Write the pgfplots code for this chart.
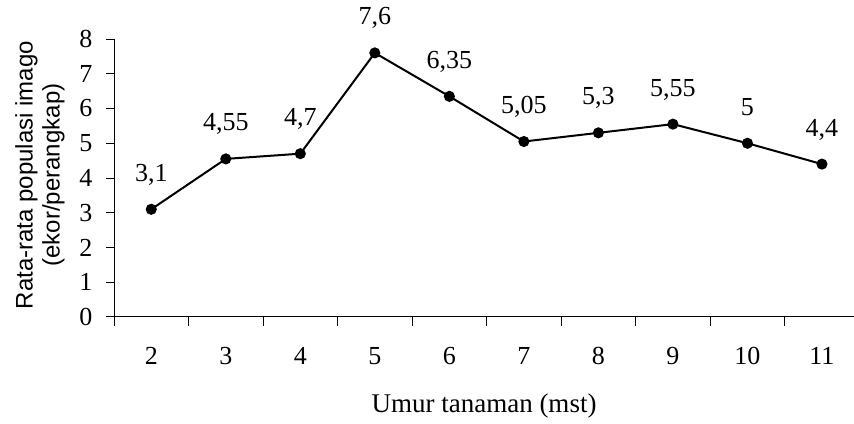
\documentclass[border=0pt]{standalone}
\usepackage{pgfplots}
\pgfplotsset{compat=1.18}
\usepackage{fontspec}
\setmainfont{Liberation Serif}
\newfontfamily\arialfont{Liberation Sans}

\begin{document}
\begin{tikzpicture}
\begin{axis}[
    at={(114pt,106pt)}, anchor=south west,
    scale only axis,
    width=740pt, height=278pt,
    xmin=-0.5, xmax=9.43,
    ymin=0, ymax=8,
    axis lines=left,
    axis line style={-, line width=1pt},
    tick align=outside,
    tick style={black, line width=1pt},
    xtick={0,...,9},
    xticklabels={2,3,4,5,6,7,8,9,10,11},
    major x tick style={draw=none},
    minor xtick={-0.5,0.5,...,8.5},
    minor tick length=9pt,
    ytick={0,...,8},
    major tick length=8pt,
    font=\fontsize{26}{30}\selectfont,
    ticklabel style={font=\fontsize{26}{30}\selectfont},
    xticklabel style={yshift=-19pt},
    yticklabel style={xshift=-10pt},
    /pgf/number format/assume math mode=true,
    xlabel={Umur tanaman (mst)},
    xlabel style={at={(axis description cs:0.5,-0.32)}, anchor=center, font=\fontsize{27}{30}\selectfont},
    nodes near coords,
    point meta=explicit symbolic,
    every node near coord/.append style={anchor=base, yshift=28pt, font=\fontsize{26}{30}\selectfont},
    clip=false,
]
\addplot[black, line width=2pt, mark=*, mark size=4.5pt, mark options={fill=black}] coordinates {
    (0,3.1) [3,1]
    (1,4.55) [4,55]
    (2,4.7) [4,7]
    (3,7.6) [7,6]
    (4,6.35) [6,35]
    (5,5.05) [5,05]
    (6,5.3) [5,3]
    (7,5.55) [5,55]
    (8,5) [5]
    (9,4.4) [4,4]
};
\end{axis}
\node[rotate=90, align=center, font=\arialfont\fontsize{24}{27}\selectfont] at (40pt,248pt)
    {Rata-rata populasi imago\\(ekor/perangkap)};
\pgfresetboundingbox
\path[use as bounding box] (0,0) rectangle (854pt,423pt);
\end{tikzpicture}
\end{document}
